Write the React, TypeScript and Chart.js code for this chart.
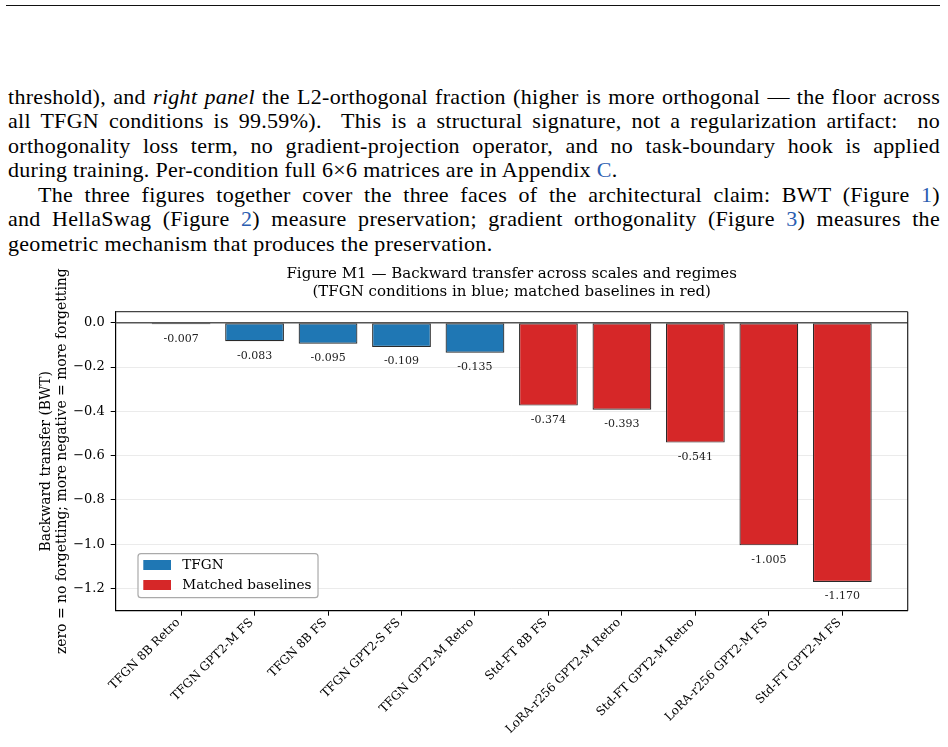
import React, { useEffect, useRef } from "react";
import { Chart, registerables } from "chart.js";

Chart.register(...registerables);

const SERIF = '"DejaVu Serif", serif';

// ---------------- data ----------------
const categories = [
  "TFGN 8B Retro",
  "TFGN GPT2-M FS",
  "TFGN 8B FS",
  "TFGN GPT2-S FS",
  "TFGN GPT2-M Retro",
  "Std-FT 8B FS",
  "LoRA-r256 GPT2-M Retro",
  "Std-FT GPT2-M Retro",
  "LoRA-r256 GPT2-M FS",
  "Std-FT GPT2-M FS",
];
const bwtValues = [-0.007, -0.083, -0.095, -0.109, -0.135, -0.374, -0.393, -0.541, -1.005, -1.17];
const seriesOfBar = [0, 0, 0, 0, 0, 1, 1, 1, 1, 1];
const seriesNames = ["TFGN", "Matched baselines"];
const seriesColors = ["#1f77b4", "#d62728"];
const yTickValues = [0, -0.2, -0.4, -0.6, -0.8, -1.0, -1.2];
const yRange = [-1.3, 0.05];
const xRange = [-0.89, 9.89];
const titleLines = [
  "Figure M1 \u2014 Backward transfer across scales and regimes",
  "(TFGN conditions in blue; matched baselines in red)",
];
const yTitleLines = [
  "Backward transfer (BWT)",
  "zero = no forgetting; more negative = more forgetting",
];

function fmtTick(v: number) {
  const s = Math.abs(v).toFixed(1);
  return v < -1e-9 ? "\u2212" + s : s;
}

// ---------------- plugins ----------------
const titlePlugin = {
  id: "figTitle",
  afterDraw(chart: any) {
    const { ctx, chartArea } = chart;
    ctx.save();
    ctx.font = `15px ${SERIF}`;
    ctx.fillStyle = "#000";
    ctx.textAlign = "center";
    ctx.textBaseline = "middle";
    const cx = (chartArea.left + chartArea.right) / 2;
    titleLines.forEach((t, i) => {
      ctx.fillText(t, cx, chartArea.top - 37.2 + i * 18);
    });
    ctx.restore();
  },
};

const frameAndZeroPlugin = {
  id: "frameZero",
  afterDatasetsDraw(chart: any) {
    const { ctx, chartArea, scales } = chart;
    const y0 = scales.y.getPixelForValue(0);
    ctx.save();
    ctx.strokeStyle = "#555";
    ctx.lineWidth = 1.3;
    ctx.beginPath();
    ctx.moveTo(chartArea.left, y0);
    ctx.lineTo(chartArea.right, y0);
    ctx.stroke();
    // top and right spines
    ctx.lineWidth = 1.2;
    ctx.strokeStyle = "#444";
    ctx.beginPath();
    ctx.moveTo(chartArea.left, chartArea.top);
    ctx.lineTo(chartArea.right, chartArea.top);
    ctx.stroke();
    ctx.strokeStyle = "#222";
    ctx.beginPath();
    ctx.moveTo(chartArea.right, chartArea.top);
    ctx.lineTo(chartArea.right, chartArea.bottom);
    ctx.stroke();
    ctx.restore();
  },
};

const barLabelPlugin = {
  id: "barLabels",
  afterDatasetsDraw(chart: any) {
    const { ctx } = chart;
    ctx.save();
    ctx.font = `11px ${SERIF}`;
    ctx.fillStyle = "#222";
    ctx.textAlign = "center";
    ctx.textBaseline = "middle";
    chart.data.datasets.forEach((ds: any, di: number) => {
      const meta = chart.getDatasetMeta(di);
      meta.data.forEach((el: any, i: number) => {
        const v = ds.data[i].y;
        ctx.fillText(v.toFixed(3), el.x, el.y + 14.7);
      });
    });
    ctx.restore();
  },
};

const legendPlugin = {
  id: "boxLegend",
  afterDraw(chart: any) {
    const { ctx, chartArea } = chart;
    const fs = 13.6;
    ctx.save();
    ctx.font = `${fs}px ${SERIF}`;
    const items = chart.data.datasets.map((d: any) => ({ label: d.label, color: d.backgroundColor }));
    const textW = Math.max(...items.map((it: any) => ctx.measureText(it.label).width));
    const padL = 5.3, handleW = 27.7, gap = 11.3, padR = 6.5;
    const rowH = 20, padT = 11.3, padB = 12.7;
    const w = padL + handleW + gap + textW + padR;
    const h = padT + rowH * (items.length - 1) + padB;
    const x0 = chartArea.left + 22.3;
    const y0 = chartArea.bottom - 13 - h;
    ctx.beginPath();
    ctx.roundRect(x0, y0, w, h, 3);
    ctx.fillStyle = "rgba(255,255,255,0.85)";
    ctx.fill();
    ctx.strokeStyle = "#aaa";
    ctx.lineWidth = 1.2;
    ctx.stroke();
    ctx.textAlign = "left";
    ctx.textBaseline = "middle";
    items.forEach((it: any, i: number) => {
      const cy = y0 + padT + i * rowH;
      ctx.fillStyle = it.color;
      ctx.fillRect(x0 + padL, cy - 5, handleW, 10);
      ctx.fillStyle = "#000";
      ctx.fillText(it.label, x0 + padL + handleW + gap, cy + 0.5);
    });
    ctx.restore();
  },
};

// ---------------- chart ----------------
function BwtChart() {
  const ref = useRef<HTMLCanvasElement | null>(null);
  useEffect(() => {
    if (!ref.current) return;
    const datasets = seriesNames.map((name, s) => ({
      label: name,
      data: categories
        .map((_, i) => ({ x: i, y: bwtValues[i], s: seriesOfBar[i] }))
        .filter((p) => p.s === s)
        .map((p) => ({ x: p.x, y: p.y })),
      backgroundColor: seriesColors[s],
      borderColor: "#2a2a2a",
      borderWidth: 1.2,
      borderSkipped: false,
      grouped: false,
      categoryPercentage: 1,
      barPercentage: 0.8,
    }));
    const chart = new Chart(ref.current, {
      type: "bar",
      data: { datasets } as any,
      options: {
        animation: false,
        responsive: false,
        maintainAspectRatio: false,
        layout: { padding: { left: 0, right: 40.3, top: 56.7, bottom: 0 } },
        plugins: {
          legend: { display: false },
          tooltip: { enabled: false },
          title: { display: false },
        },
        scales: {
          x: {
            type: "linear",
            offset: false,
            min: xRange[0],
            max: xRange[1],
            afterBuildTicks: (ax: any) => {
              ax.ticks = categories.map((_, i) => ({ value: i }));
            },
            afterFit: (s: any) => {
              s.height = 136.3;
            },
            ticks: {
              autoSkip: false,
              minRotation: 45,
              maxRotation: 45,
              padding: 0,
              labelOffset: -3,
              color: "#000",
              font: { family: SERIF, size: 12 },
              callback: (v: any) => categories[Math.round(v)] ?? "",
            },
            grid: {
              offset: false,
              drawOnChartArea: false,
              drawTicks: true,
              tickLength: 5,
              tickColor: "#000",
            },
            border: { color: "#000", width: 1.2 },
          },
          y: {
            type: "linear",
            min: yRange[0],
            max: yRange[1],
            afterBuildTicks: (ax: any) => {
              ax.ticks = yTickValues.map((v) => ({ value: v }));
            },
            afterFit: (s: any) => {
              s.width = 115.7;
            },
            ticks: {
              padding: 6,
              color: "#000",
              font: { family: SERIF, size: 13 },
              callback: (v: any) => fmtTick(Number(v)),
            },
            grid: {
              color: "#ebebeb",
              lineWidth: 1,
              tickColor: "#000",
              tickLength: 5,
            },
            border: { color: "#000", width: 1.2 },
            title: {
              display: true,
              text: yTitleLines,
              color: "#000",
              font: { family: SERIF, size: 13.9, lineHeight: 1.18 },
              padding: { top: 37.8, bottom: 0 },
            },
          },
        },
      } as any,
      plugins: [titlePlugin, frameAndZeroPlugin, barLabelPlugin, legendPlugin],
    });
    return () => chart.destroy();
  }, []);
  return (
    <canvas
      ref={ref}
      width={948}
      height={492}
      style={{ position: "absolute", left: 0, top: 255, width: 948, height: 492 }}
    />
  );
}

// ---------------- page text ----------------
const LINK = "#2a5db0";
const bodyFont: React.CSSProperties = {
  fontFamily: '"Liberation Serif", serif',
  fontSize: 22,
  letterSpacing: "0.3px",
  color: "#000",
};

function Line({ children, justify = true, indent = 0 }: any) {
  return (
    <div
      style={{
        width: 932,
        height: 24.5,
        lineHeight: "24.5px",
        overflow: "hidden",
        textAlign: justify ? "justify" : "left",
        textAlignLast: justify ? "justify" : "left",
        textIndent: indent,
      }}
    >
      {children}
    </div>
  );
}

export default function App() {
  return (
    <div style={{ position: "absolute", left: 0, top: 0, width: 948, height: 747, background: "#fff", overflow: "hidden" }}>
      <div style={{ position: "absolute", left: 6, top: 5, width: 934, height: 1.3, background: "#111" }} />
      <div style={{ position: "absolute", left: 8, top: 84.75, ...bodyFont }}>
        <Line>
          threshold), and <i>right panel</i> the L2-orthogonal fraction (higher is more orthogonal — the floor across
        </Line>
        <Line>
          all TFGN conditions is 99.59%).&nbsp; This is a structural signature, not a regularization artifact:&nbsp; no
        </Line>
        <Line>orthogonality loss term, no gradient-projection operator, and no task-boundary hook is applied</Line>
        <Line justify={false}>
          during training. Per-condition full 6×6 matrices are in Appendix <span style={{ color: LINK }}>C</span>.
        </Line>
        <Line indent={30}>
          The three figures together cover the three faces of the architectural claim: BWT (Figure{" "}
          <span style={{ color: LINK }}>1</span>)
        </Line>
        <Line>
          and HellaSwag (Figure <span style={{ color: LINK }}>2</span>) measure preservation; gradient orthogonality
          (Figure <span style={{ color: LINK }}>3</span>) measures the
        </Line>
        <Line justify={false}>geometric mechanism that produces the preservation.</Line>
      </div>
      <BwtChart />
    </div>
  );
}
